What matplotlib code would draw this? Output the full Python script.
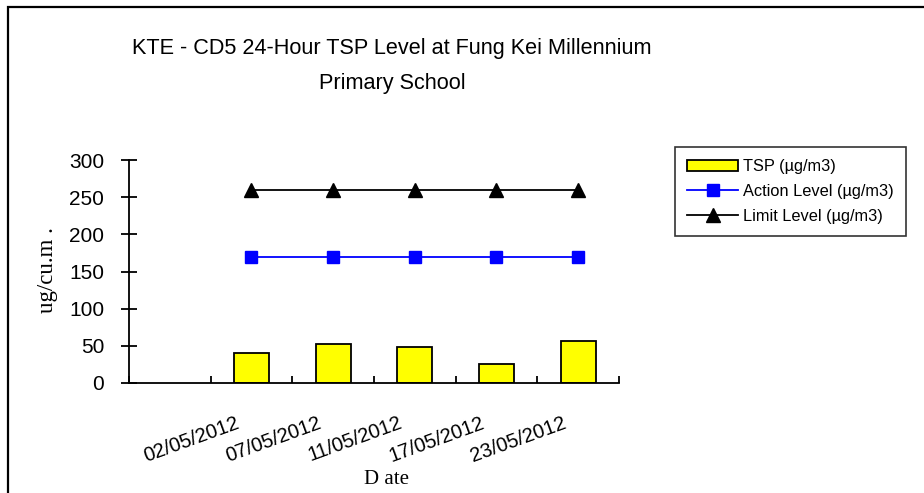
import numpy as np
import matplotlib
matplotlib.use("Agg")
import matplotlib.pyplot as plt
from matplotlib.patches import Rectangle

# datos
fechas = ["", "02/05/2012", "07/05/2012", "11/05/2012", "17/05/2012", "23/05/2012"]
tsp = [np.nan, 40, 53, 48, 26, 56]
action_level = [np.nan, 170, 170, 170, 170, 170]
limit_level = [np.nan, 260, 260, 260, 260, 260]
yticks = [0, 50, 100, 150, 200, 250, 300]

plt.rcParams["font.family"] = ["Liberation Sans", "DejaVu Sans"]

fig = plt.figure(figsize=(9.24, 4.93), dpi=100)
ax = fig.add_axes([129/924, 1 - 383/493, 490/924, 223/493])

x = np.arange(len(fechas))
barras = ax.bar(x, tsp, width=0.43, color="#ffff00", edgecolor="black",
                linewidth=1.3, label="TSP (µg/m3)", zorder=2)
l_action, = ax.plot(x, action_level, color="#0000ff", lw=1.3, marker="s", ms=8,
                    label="Action Level (µg/m3)", zorder=3)
l_limit, = ax.plot(x, limit_level, color="black", lw=1.3, marker="^", ms=9.5,
                   label="Limit Level (µg/m3)", zorder=3)

ax.set_xlim(-0.5, len(fechas) - 0.5)
ax.set_ylim(0, 300)
ax.set_yticks(yticks)
ax.tick_params(axis="y", labelsize=15, direction="inout", length=11.5, width=1.3, pad=12)

# marcas de categoria entre barras, hacia adentro
ax.set_xticks(x[1:] - 0.2)
ax.set_xticklabels(fechas[1:], rotation=20, ha="right", rotation_mode="anchor",
                   fontsize=14.5)
ax.tick_params(axis="x", which="major", length=0, pad=22)
ax.set_xticks(np.arange(len(fechas) + 1) - 0.5, minor=True)
ax.tick_params(axis="x", which="minor", direction="in", length=5, width=1.3)

for s in ["top", "right"]:
    ax.spines[s].set_visible(False)
for s in ["left", "bottom"]:
    ax.spines[s].set_linewidth(1.3)

fig.text(387/924, 1 - 480/493, "D ate", family=["Liberation Serif"],
         fontsize=15, ha="center", va="center")
fig.text(47/924, 1 - 270/493, "ug/cu.m .", family=["Liberation Serif"],
         fontsize=16.5, ha="center", va="center", rotation=90)

fig.text(392/924, 1 - 66/493,
         "KTE - CD5 24-Hour TSP Level at Fung Kei Millennium\nPrimary School",
         ha="center", va="center", fontsize=15.6, linespacing=1.85)

leg = fig.legend([barras, l_action, l_limit],
                 ["TSP (µg/m3)", "Action Level (µg/m3)", "Limit Level (µg/m3)"],
                 loc="upper left", bbox_to_anchor=(675/924, 1 - 147/493),
                 fontsize=11.8, frameon=True, fancybox=False, handlelength=3.1,
                 edgecolor="black", borderpad=0.75, labelspacing=0.6,
                 handletextpad=0.3, borderaxespad=0)
leg.get_frame().set_linewidth(1.2)

fig.patches.append(Rectangle((8/924, -0.1), 1.5, 1.1 - 7/493, fill=False,
                             edgecolor="black", linewidth=1.6,
                             transform=fig.transFigure))

fig.savefig("out.png", dpi=100)
